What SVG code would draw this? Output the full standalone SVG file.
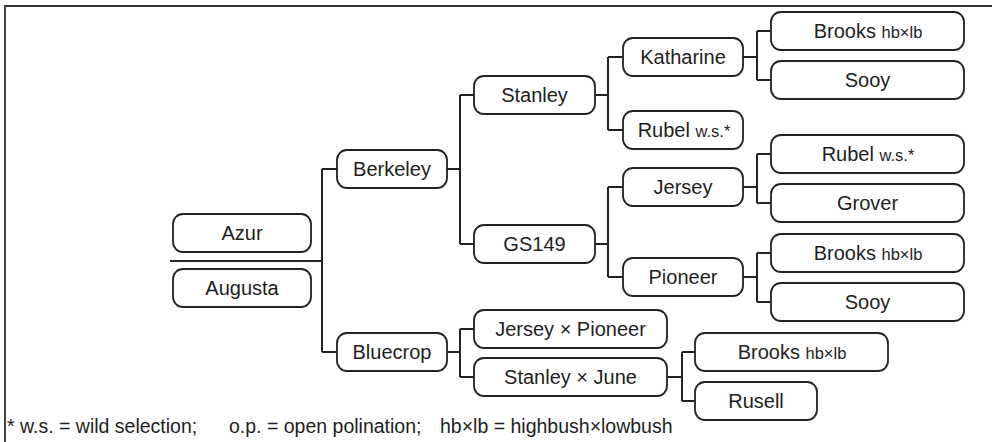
<svg xmlns="http://www.w3.org/2000/svg" width="992" height="442" viewBox="0 0 992 442">
<style>
.n rect{fill:#fff;stroke:#222;stroke-width:1.8}
text{font-family:"Liberation Sans",Arial,sans-serif;font-size:20px;fill:#1e1e1e;text-anchor:middle}
.s{font-size:16.5px}
.f{text-anchor:start;font-size:19.5px}
#connectors path{fill:none;stroke:#222;stroke-width:2}
#frame path{fill:none;stroke:#333;stroke-width:1.8}
</style>
<rect width="992" height="442" fill="#fff"/>
<g id="frame"><path d="M5 442V6H992"/></g>
<g id="connectors">
<path d="M170 261H322M322 169V352M322 169H337M322 352H337"/>
<path d="M447 169H460M460 95V244M460 95H474M460 244H474"/>
<path d="M447 352H460M460 329V377M460 329H474M460 377H474"/>
<path d="M595 95H608M608 57V130M608 57H623M608 130H623"/>
<path d="M595 244H608M608 187V277M608 187H623M608 277H623"/>
<path d="M743 57H757M757 31V80M757 31H771M757 80H771"/>
<path d="M743 187H757M757 154V203M757 154H771M757 203H771"/>
<path d="M743 277H757M757 253V302M757 253H771M757 302H771"/>
<path d="M667 377H682M682 352V401M682 352H695M682 401H695"/>
</g>
<g id="azur" class="n"><rect x="173" y="214" width="138" height="38" rx="10"/><text x="242" y="240">Azur</text></g>
<g id="augusta" class="n"><rect x="173" y="269" width="138" height="38" rx="10"/><text x="242" y="295">Augusta</text></g>
<g id="berkeley" class="n"><rect x="337" y="150" width="110" height="38" rx="10"/><text x="392" y="176">Berkeley</text></g>
<g id="bluecrop" class="n"><rect x="337" y="333" width="110" height="38" rx="10"/><text x="392" y="359">Bluecrop</text></g>
<g id="stanley" class="n"><rect x="474" y="76" width="121" height="38" rx="10"/><text x="534.5" y="102">Stanley</text></g>
<g id="gs149" class="n"><rect x="474" y="225" width="121" height="38" rx="10"/><text x="534.5" y="251">GS149</text></g>
<g id="jersey-pioneer" class="n"><rect x="474" y="310" width="193" height="38" rx="10"/><text x="570.5" y="336">Jersey × Pioneer</text></g>
<g id="stanley-june" class="n"><rect x="474" y="358" width="193" height="38" rx="10"/><text x="570.5" y="384">Stanley × June</text></g>
<g id="katharine" class="n"><rect x="623" y="38" width="120" height="38" rx="10"/><text x="683" y="64">Katharine</text></g>
<g id="rubel1" class="n"><rect x="623" y="111" width="120" height="38" rx="10"/><text x="684" y="137">Rubel <tspan class="s">w.s.*</tspan></text></g>
<g id="jersey" class="n"><rect x="623" y="168" width="120" height="38" rx="10"/><text x="683" y="194">Jersey</text></g>
<g id="pioneer" class="n"><rect x="623" y="258" width="120" height="38" rx="10"/><text x="683" y="284">Pioneer</text></g>
<g id="brooks1" class="n"><rect x="771" y="12" width="193" height="38" rx="10"/><text x="868" y="38">Brooks <tspan class="s">hb×lb</tspan></text></g>
<g id="sooy1" class="n"><rect x="771" y="61" width="193" height="38" rx="10"/><text x="867.5" y="87">Sooy</text></g>
<g id="rubel2" class="n"><rect x="771" y="135" width="193" height="38" rx="10"/><text x="868" y="161">Rubel <tspan class="s">w.s.*</tspan></text></g>
<g id="grover" class="n"><rect x="771" y="184" width="193" height="38" rx="10"/><text x="867.5" y="210">Grover</text></g>
<g id="brooks2" class="n"><rect x="771" y="234" width="193" height="38" rx="10"/><text x="868" y="260">Brooks <tspan class="s">hb×lb</tspan></text></g>
<g id="sooy2" class="n"><rect x="771" y="283" width="193" height="38" rx="10"/><text x="867.5" y="309">Sooy</text></g>
<g id="brooks3" class="n"><rect x="695" y="333" width="193" height="38" rx="10"/><text x="792" y="359">Brooks <tspan class="s">hb×lb</tspan></text></g>
<g id="rusell" class="n"><rect x="695" y="382" width="122" height="38" rx="10"/><text x="756" y="408">Rusell</text></g>
<g id="footnote">
<text class="f" x="7" y="433">* w.s. = wild selection;</text>
<text class="f" x="229" y="433">o.p. = open polination;</text>
<text class="f" x="440" y="433">hb×lb = highbush×lowbush</text>
</g>
</svg>
